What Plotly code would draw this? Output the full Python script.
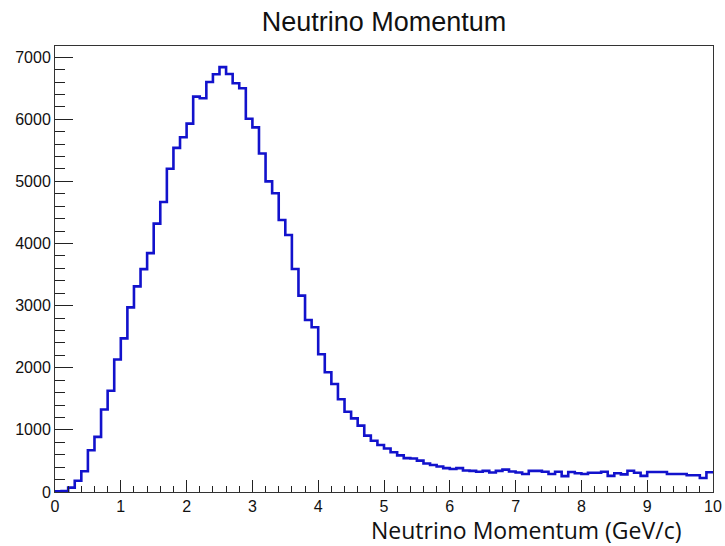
import numpy as np
import plotly.graph_objects as go

# Histogram: Neutrino Momentum, 100 bins from 0 to 10 GeV/c
x_min = 0.0
x_max = 10.0
n_bins = 100
counts = [
    10, 15, 70, 180, 333, 672, 887, 1328, 1629, 2134,
    2473, 2973, 3310, 3588, 3845, 4321, 4668, 5203, 5540, 5711,
    5930, 6365, 6340, 6600, 6725, 6840, 6730, 6580, 6500, 6010,
    5870, 5450, 5000, 4810, 4380, 4138, 3590, 3161, 2770, 2652,
    2217, 1927, 1739, 1492, 1293, 1186, 1068, 907, 826, 757,
    700, 640, 590, 545, 540, 505, 460, 435, 410, 385,
    370, 385, 345, 340, 325, 340, 315, 340, 360, 330,
    315, 290, 340, 340, 327, 290, 327, 255, 322, 301,
    290, 311, 311, 327, 260, 301, 284, 343, 311, 260,
    322, 322, 322, 290, 290, 290, 270, 270, 225, 317,
]
x_tick_vals = [0, 1, 2, 3, 4, 5, 6, 7, 8, 9, 10]
y_tick_vals = [0, 1000, 2000, 3000, 4000, 5000, 6000, 7000]

edges = np.linspace(x_min, x_max, n_bins + 1)
step_x = [x_min] + list(edges)
step_y = [0] + list(counts) + [counts[-1]]

fig = go.Figure()
fig.add_trace(go.Scatter(
    x=step_x, y=step_y, mode="lines", line_shape="hv",
    line=dict(color="#1212cc", width=2.6), hoverinfo="skip",
))

fig.update_layout(
    width=725, height=546,
    margin=dict(l=55, r=12, t=46, b=54, autoexpand=False),
    paper_bgcolor="white", plot_bgcolor="white",
    showlegend=False,
    title=dict(text="Neutrino Momentum", x=(55 + 713) / 2 / 725, xanchor="center",
               y=1 - 22 / 546, yanchor="middle",
               font=dict(family="Liberation Sans, Arial", size=27, color="#111")),
    annotations=[dict(text="Neutrino Momentum (GeV/c)", xref="paper", yref="paper",
                      x=(683 - 55) / 658, y=(492 - 530) / 446, xanchor="right", yanchor="middle",
                      showarrow=False,
                      font=dict(family="Open Sans, Lato", size=23, color="#111"))],
)
fig.update_xaxes(
    range=[x_min, x_max], tickvals=x_tick_vals, ticks="inside", ticklen=12,
    tickcolor="#222", tickwidth=1, automargin=False,
    minor=dict(ticks="inside", ticklen=6, dtick=0.2, tickcolor="#222", tickwidth=1, showgrid=False),
    showline=True, linecolor="#333", linewidth=1, mirror=True,
    showgrid=False, zeroline=False,
    tickfont=dict(family="Liberation Sans, Arial", size=16, color="#111"),
)
fig.update_yaxes(
    range=[0, 7180], tickvals=y_tick_vals, ticks="inside", ticklen=18,
    tickcolor="#222", tickwidth=1, automargin=False,
    minor=dict(ticks="inside", ticklen=10, dtick=200, tickcolor="#222", tickwidth=1, showgrid=False),
    showline=True, linecolor="#333", linewidth=1, mirror=True,
    showgrid=False, zeroline=False,
    tickfont=dict(family="Liberation Sans, Arial", size=16, color="#111"),
)

fig.write_html("out.html")
